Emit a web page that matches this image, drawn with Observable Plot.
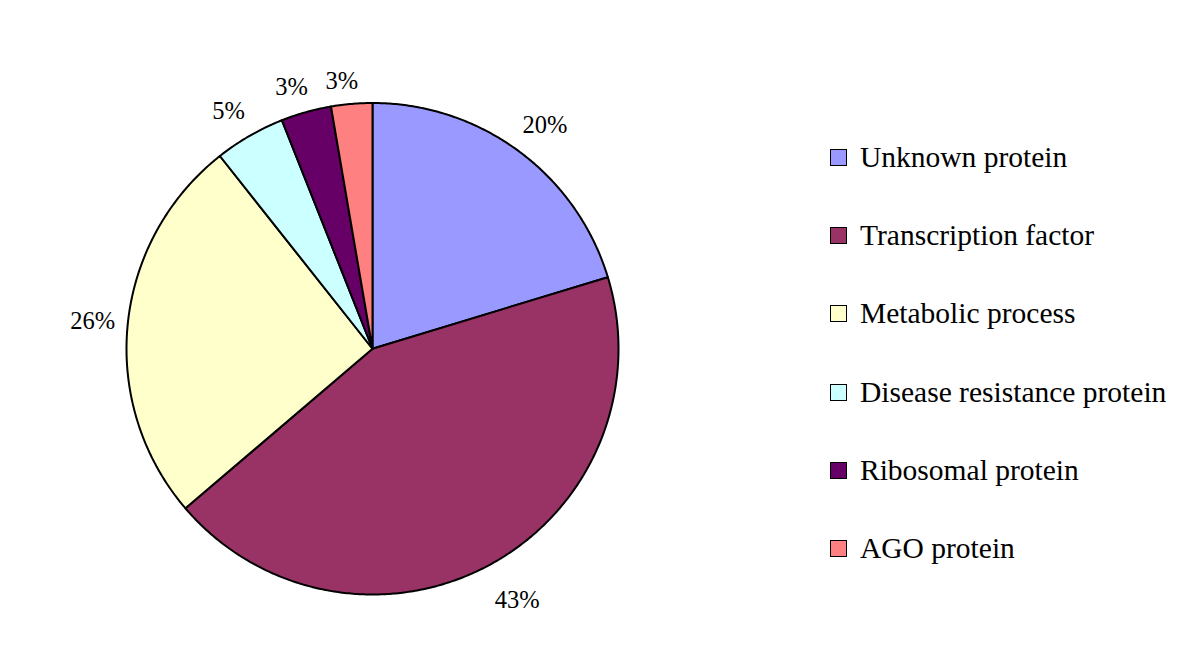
<!DOCTYPE html>
<html>
<head>
<meta charset="utf-8">
<script src="https://cdn.jsdelivr.net/npm/d3@7"></script>
<script src="https://cdn.jsdelivr.net/npm/@observablehq/plot@0.6"></script>
<style>
  html, body { margin: 0; padding: 0; background: #fff; }
  #wrap { position: relative; width: 1200px; height: 665px; }
  #legend { position: absolute; left: 0; top: 0; }
  .item { position: absolute; left: 830px; height: 40px; display: flex; align-items: center;
          font-family: "Liberation Serif", "Times New Roman", serif; font-size: 29.5px; color: #000; white-space: nowrap; }
  .sw { width: 15px; height: 15px; border: 1.5px solid #000; margin-right: 13px; flex: none; }
</style>
</head>
<body>
<div id="wrap"><div id="legend"></div></div>
<script>
const categories = ["Unknown protein", "Transcription factor", "Metabolic process", "Disease resistance protein", "Ribosomal protein", "AGO protein"];
const shares = [20.3, 43.45, 25.6, 4.65, 3.3, 2.7];
const percentLabels = ["20%", "43%", "26%", "5%", "3%", "3%"];
const colors = ["#9999FF", "#993366", "#FFFFCC", "#CCFFFF", "#660066", "#FF8080"];

const data = categories.map((name, i) => ({name, share: shares[i], label: percentLabels[i]}));
const arcs = d3.pie().sort(null).value(d => d.share)(data);

// pie geometry (pixels) used to convert label offsets into data units
const W = 1200, H = 665, mL = 126, mR = 582, mT = 102.5, mB = 71;
const rx = (W - mL - mR) / 2, ry = (H - mT - mB) / 2;

// polygon points for each slice (unit circle, y up)
const points = [];
for (const a of arcs) {
  const n = Math.max(2, Math.ceil((a.endAngle - a.startAngle) / (2 * Math.PI) * 720));
  points.push({name: a.data.name, x: 0, y: 0});
  for (let k = 0; k <= n; k++) {
    const t = a.startAngle + (a.endAngle - a.startAngle) * k / n;
    points.push({name: a.data.name, x: Math.sin(t), y: Math.cos(t)});
  }
  points.push({name: a.data.name, x: 0, y: 0});
}

// "outside end" labels: box placed just outside the rim
const labelSize = 24.5, gap = 11;
const labels = arcs.map(a => {
  const m = (a.startAngle + a.endAngle) / 2;
  const s = Math.sin(m), c = Math.cos(m);
  const txt = a.data.label;
  const hw = 0.5 * labelSize * (0.5 * (txt.length - 1) + 0.833);
  const hh = c >= 0 ? 10.5 : 21.5;
  const R = rx + gap + Math.abs(s) * hw + Math.abs(c) * hh;
  const px = R * s + Math.sign(s) * 8 * Math.abs(c);
  const py = R * c;
  return {label: txt, x: px / rx, y: py / ry};
});

const font = "'Liberation Serif', 'Times New Roman', serif";
const chart = Plot.plot({
  width: W,
  height: H,
  marginLeft: mL,
  marginRight: mR,
  marginTop: mT,
  marginBottom: mB,
  x: {domain: [-1, 1], axis: null},
  y: {domain: [-1, 1], axis: null},
  color: {domain: categories, range: colors},
  style: {fontFamily: font, background: "#fff"},
  marks: [
    Plot.line(points, {x: "x", y: "y", z: "name", fill: "name", stroke: "#000", strokeWidth: 2, strokeLinejoin: "round"}),
    Plot.text(labels, {x: "x", y: "y", text: "label", fontSize: labelSize, fontFamily: font, fill: "#000"})
  ]
});
document.getElementById("wrap").prepend(chart);

const legend = document.getElementById("legend");
categories.forEach((c, i) => {
  const item = document.createElement("div");
  item.className = "item";
  item.style.top = (157.5 + i * 78.2 - 20) + "px";
  const sw = document.createElement("div");
  sw.className = "sw";
  sw.style.background = colors[i];
  item.appendChild(sw);
  item.appendChild(document.createTextNode(c));
  legend.appendChild(item);
});
</script>
</body>
</html>
